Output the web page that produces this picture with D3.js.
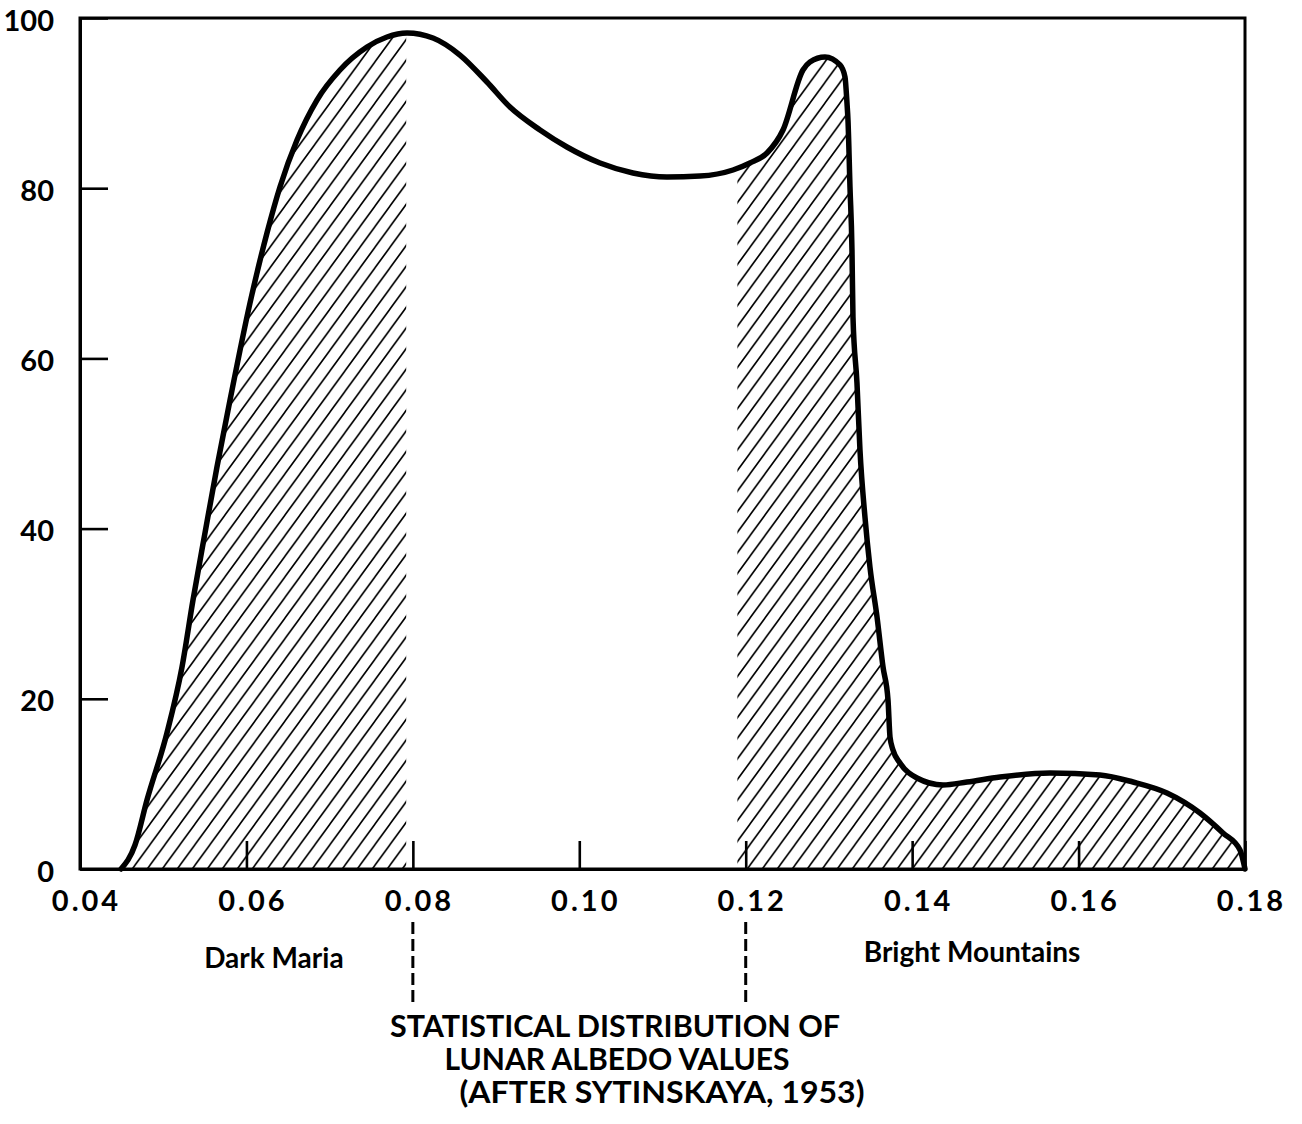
<!DOCTYPE html>
<html>
<head>
<meta charset="utf-8">
<script src="https://cdn.jsdelivr.net/npm/d3@7"></script>
<style>
  html, body { margin: 0; padding: 0; background: #fff; }
  svg { display: block; }
  text { font-family: Lato, "Open Sans", sans-serif; fill: #000; }
</style>
</head>
<body>
<svg id="chart" width="1302" height="1124"></svg>
<script>
// Lunar albedo (x) and relative frequency (y) along the distribution curve
const albedo = [
  0.04493, 0.04661, 0.04805, 0.05045, 0.05226, 0.05358, 0.05502, 0.05646, 0.05803,
  0.06043, 0.06247, 0.06403, 0.06608, 0.06848, 0.07124, 0.07449, 0.07689, 0.07930,
  0.08242, 0.08566, 0.08891, 0.09167, 0.09528, 0.09852, 0.10249, 0.10645, 0.11054,
  0.11451, 0.11847, 0.12051, 0.12256, 0.12448, 0.12688, 0.12772, 0.12953, 0.13133,
  0.13193, 0.13217, 0.13229, 0.13253, 0.13277, 0.13289, 0.13337, 0.13373, 0.13433,
  0.13493, 0.13578, 0.13650, 0.13710, 0.13734, 0.13770, 0.13854, 0.14058, 0.14371,
  0.14659, 0.15056, 0.15656, 0.16257, 0.16654, 0.17062, 0.17459, 0.17735, 0.17940,
  0.18000
];
const frequency = [
  0.00, 2.82, 8.11, 15.98, 23.74, 31.61, 39.48, 47.24, 55.11,
  66.51, 74.74, 80.14, 85.66, 90.36, 93.89, 96.59, 97.77, 98.24,
  97.65, 95.65, 92.48, 89.54, 86.84, 84.84, 82.96, 81.79, 81.32,
  81.43, 82.14, 82.96, 84.14, 86.84, 93.89, 94.83, 95.42, 94.48,
  93.07, 90.01, 88.01, 80.14, 72.74, 64.87, 57.11, 49.24, 41.36,
  35.49, 29.61, 23.74, 19.86, 15.51, 13.98, 12.46, 10.69, 9.87,
  10.22, 10.81, 11.28, 11.05, 10.22, 8.93, 6.58, 4.23, 2.23,
  0.00
];

// Hatched albedo ranges: dark maria and bright mountains
const hatchRanges = [[0.0400, 0.0792], [0.1190, 0.1800]];
// Markers below the axis bounding the intermediate range
const dividers = [0.08, 0.12];

const xTicks = [0.04, 0.06, 0.08, 0.10, 0.12, 0.14, 0.16, 0.18];
const yTicks = [0, 20, 40, 60, 80, 100];

const regionLabels = ["Dark Maria", "Bright Mountains"];
const regionAt = [0.0633, 0.1472];
const titleLines = ["STATISTICAL DISTRIBUTION OF", "LUNAR ALBEDO VALUES", "(AFTER SYTINSKAYA, 1953)"];

const data = albedo.map((a, i) => ({ a, f: frequency[i] }));

const svg = d3.select("#chart");
const plotLeft = 80, plotRight = 1245, plotTop = 18, plotBottom = 869;

const x = d3.scaleLinear().domain([0.04, 0.18]).range([plotLeft, plotRight]);
const y = d3.scaleLinear().domain([0, 100]).range([plotBottom, plotTop]);

// Diagonal hatch pattern
const hw = 15, hh = 20.6;
const defs = svg.append("defs");
defs.append("pattern")
  .attr("id", "hatch")
  .attr("patternUnits", "userSpaceOnUse")
  .attr("width", hw).attr("height", hh)
  .append("path")
  .attr("d", `M0,${hh} L${hw},0 M${-hw / 2},${hh / 2} L${hw / 2},${-hh / 2} M${hw / 2},${hh * 1.5} L${hw * 1.5},${hh / 2}`)
  .attr("stroke", "#000")
  .attr("stroke-width", 1.6)
  .attr("fill", "none");

hatchRanges.forEach((r, i) => {
  defs.append("clipPath").attr("id", "clip" + i)
    .append("rect")
    .attr("x", x(r[0])).attr("y", y(100))
    .attr("width", x(r[1]) - x(r[0]))
    .attr("height", y(0) - y(100));
});

const area = d3.area()
  .x(d => x(d.a))
  .y0(y(0))
  .y1(d => y(d.f))
  .curve(d3.curveMonotoneX);

hatchRanges.forEach((r, i) => {
  svg.append("path")
    .datum(data)
    .attr("clip-path", `url(#clip${i})`)
    .attr("d", area)
    .attr("fill", "url(#hatch)");
});

// Frame
svg.append("rect")
  .attr("x", x(0.04)).attr("y", y(100))
  .attr("width", x(0.18) - x(0.04))
  .attr("height", y(0) - y(100))
  .attr("fill", "none")
  .attr("stroke", "#000")
  .attr("stroke-width", 3);

// Axes with inward ticks
const xAxis = d3.axisBottom(x)
  .tickValues(xTicks)
  .tickFormat(d3.format(".2f"))
  .tickSizeInner(-28)
  .tickSizeOuter(0)
  .tickPadding(21);

const gx = svg.append("g").attr("transform", `translate(0,${y(0)})`).call(xAxis);
gx.select(".domain").attr("stroke-width", 3);
gx.selectAll(".tick line").attr("stroke-width", 2.6);
gx.selectAll(".tick text")
  .attr("font-size", 29)
  .attr("font-weight", 700)
  .attr("letter-spacing", 3)
  .attr("dx", 6)
  .style("font-family", "Lato, sans-serif");

const yAxis = d3.axisLeft(y)
  .tickValues(yTicks)
  .tickSizeInner(-28)
  .tickSizeOuter(0)
  .tickPadding(26);

const gy = svg.append("g").attr("transform", `translate(${x(0.04)},0)`).call(yAxis);
gy.select(".domain").attr("stroke-width", 3);
gy.selectAll(".tick line").attr("stroke-width", 2.6);
gy.selectAll(".tick text")
  .attr("font-size", 29)
  .attr("font-weight", 700)
  .attr("dy", "0.42em")
  .style("font-family", "Lato, sans-serif");

// Distribution curve
const line = d3.line()
  .x(d => x(d.a))
  .y(d => y(d.f))
  .curve(d3.curveMonotoneX);

svg.append("path")
  .datum(data)
  .attr("d", line)
  .attr("fill", "none")
  .attr("stroke", "#000")
  .attr("stroke-width", 5.5)
  .attr("stroke-linejoin", "round")
  .attr("stroke-linecap", "round");

// Dashed dividers under the axis
svg.selectAll("line.divider")
  .data(dividers)
  .join("line")
  .attr("class", "divider")
  .attr("x1", d => x(d)).attr("x2", d => x(d))
  .attr("y1", 922).attr("y2", 1002)
  .attr("stroke", "#000")
  .attr("stroke-width", 3)
  .attr("stroke-dasharray", "12,5");

// Region labels
const regionBaseline = [968, 962];
svg.selectAll("text.region")
  .data(regionLabels)
  .join("text")
  .attr("class", "region")
  .attr("x", (d, i) => x(regionAt[i]))
  .attr("y", (d, i) => regionBaseline[i])
  .attr("text-anchor", "middle")
  .attr("font-size", 28)
  .attr("font-weight", 700)
  .text(d => d);

// Caption
const captionX = [615, 617, 662];
const captionW = [450, 345, 405];
svg.selectAll("text.caption")
  .data(titleLines)
  .join("text")
  .attr("class", "caption")
  .attr("x", (d, i) => captionX[i])
  .attr("y", (d, i) => 1037 + i * 33)
  .attr("text-anchor", "middle")
  .attr("font-size", 30)
  .attr("font-weight", 700)
  .attr("textLength", (d, i) => captionW[i])
  .attr("lengthAdjust", "spacingAndGlyphs")
  .text(d => d);
</script>
</body>
</html>
